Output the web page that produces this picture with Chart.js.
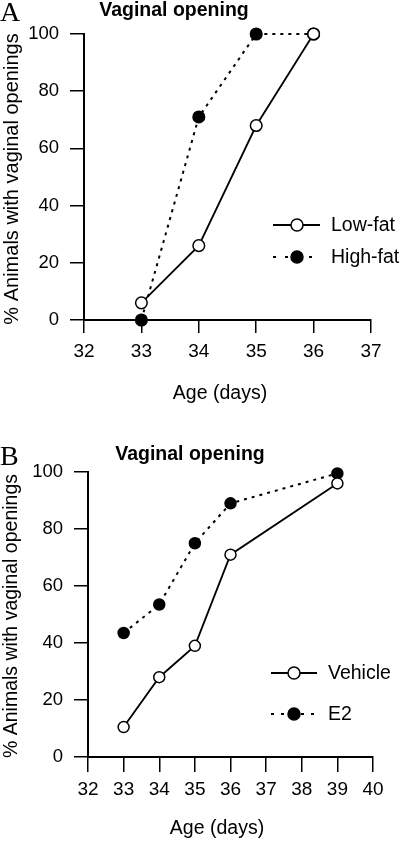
<!DOCTYPE html>
<html>
<head>
<meta charset="utf-8">
<script src="https://cdn.jsdelivr.net/npm/chart.js@4/dist/chart.umd.min.js"></script>
<style>
html,body{margin:0;padding:0;background:#fff;}
body{width:400px;height:841px;position:relative;overflow:hidden;}
canvas{position:absolute;left:0;}
#cA{top:0;}
#cB{top:420px;}
</style>
</head>
<body>
<canvas id="cA" width="400" height="420"></canvas>
<canvas id="cB" width="400" height="421"></canvas>
<script>
// ---- Data ----
const ageA = [33, 34, 35, 36];
const lowFat = [6, 26, 68, 100];
const highFat = [0, 71, 100, 100];

const ageB = [33, 34, 35, 36, 39];
const vehicle = [10.5, 28, 39, 71, 96];
const e2 = [43.5, 53.5, 75, 89, 99.5];

const xTicksA = [32, 33, 34, 35, 36, 37];
const xTicksB = [32, 33, 34, 35, 36, 37, 38, 39, 40];
const yTicks = [0, 20, 40, 60, 80, 100];

const seriesNamesA = ['Low-fat', 'High-fat'];
const seriesNamesB = ['Vehicle', 'E2'];
const panelTitle = 'Vaginal opening';
const yTitle = '% Animals with vaginal openings';
const xTitle = 'Age (days)';

const SANS = '"Liberation Sans", Arial, Helvetica, sans-serif';
const SERIF = '"Liberation Serif", "Times New Roman", serif';

function pts(xs, ys) { return xs.map((x, i) => ({x: x, y: ys[i]})); }

function makeDatasets(xs, a, b, names, r) {
  return [
    {label: names[0], data: pts(xs, a), borderColor: '#000', backgroundColor: '#fff',
     borderWidth: 1.8, pointRadius: r, pointBorderWidth: 1.5, pointBackgroundColor: '#fff',
     pointBorderColor: '#000', tension: 0, clip: false, order: 0},
    {label: names[1], data: pts(xs, b), borderColor: '#000', backgroundColor: '#000',
     borderWidth: 2, borderDash: [3, 5], pointRadius: r, pointBorderWidth: 1.5,
     pointBackgroundColor: '#000', pointBorderColor: '#000', tension: 0, clip: false, order: 1}
  ];
}

function annotPlugin(cfg) {
  return {
    id: 'annot',
    afterDraw(chart) {
      const ctx = chart.ctx;
      ctx.save();
      ctx.fillStyle = '#000';
      // panel letter
      ctx.font = '28px ' + SERIF;
      ctx.textAlign = 'left'; ctx.textBaseline = 'alphabetic';
      ctx.fillText(cfg.letter, cfg.letterX, cfg.letterY);
      // title
      ctx.font = 'bold 19.5px ' + SANS;
      ctx.textAlign = 'center';
      ctx.fillText(panelTitle, cfg.titleX, cfg.titleY);
      // x title
      ctx.font = '19.5px ' + SANS;
      ctx.fillText(xTitle, cfg.xtX, cfg.xtY);
      // y title
      ctx.save();
      ctx.translate(cfg.ytX, cfg.ytY);
      ctx.rotate(-Math.PI / 2);
      ctx.font = cfg.ytSize + 'px ' + SANS;
      ctx.textAlign = 'center'; ctx.textBaseline = 'middle';
      ctx.fillText(yTitle, 0, 0);
      ctx.restore();
      // legend
      const L = cfg.legend;
      ctx.font = '19.5px ' + SANS;
      ctx.textAlign = 'left'; ctx.textBaseline = 'middle';
      ctx.strokeStyle = '#000';
      // row 1 solid
      ctx.lineWidth = 1.8;
      ctx.setLineDash([]);
      ctx.beginPath(); ctx.moveTo(L.x0, L.y1); ctx.lineTo(L.x1, L.y1); ctx.stroke();
      ctx.beginPath(); ctx.arc(L.cx, L.y1, L.r, 0, Math.PI * 2);
      ctx.fillStyle = '#fff'; ctx.fill(); ctx.lineWidth = 1.5; ctx.stroke();
      ctx.fillStyle = '#000';
      ctx.fillText(L.names[0], L.tx, L.y1 + 1);
      // row 2 dotted
      ctx.lineWidth = 2;
      ctx.setLineDash(L.dash);
      ctx.beginPath(); ctx.moveTo(L.x0, L.y2); ctx.lineTo(L.x1, L.y2); ctx.stroke();
      ctx.setLineDash([]);
      ctx.beginPath(); ctx.arc(L.cx, L.y2, L.r, 0, Math.PI * 2);
      ctx.fill(); ctx.lineWidth = 1.5; ctx.stroke();
      ctx.fillText(L.names[1], L.tx, L.y2 + 1);
      ctx.restore();
    }
  };
}

function makeOptions(xTicks, yw, xh, pad, tlx, tly, padX) {
  const xmin = xTicks[0], xmax = xTicks[xTicks.length - 1];
  return {
    responsive: false, animation: false, devicePixelRatio: 1,
    layout: {padding: pad},
    plugins: {legend: {display: false}, tooltip: {enabled: false}, title: {display: false}},
    scales: {
      x: {
        type: 'linear', min: xmin, max: xmax,
        afterBuildTicks: (s) => { s.ticks = xTicks.map(v => ({value: v})); },
        afterFit: (s) => { s.height = xh; },
        ticks: {color: '#000', font: {family: SANS, size: 19}, padding: padX, autoSkip: false, maxRotation: 0},
        grid: {display: true, drawOnChartArea: false, drawTicks: true, tickLength: tlx, color: '#000', lineWidth: 1.5},
        border: {display: true, color: '#000', width: 2}
      },
      y: {
        type: 'linear', min: 0, max: 100,
        afterBuildTicks: (s) => { s.ticks = yTicks.map(v => ({value: v})); },
        afterFit: (s) => { s.width = yw; },
        ticks: {color: '#000', font: {family: SANS, size: 18.5}, padding: 11},
        grid: {display: true, drawOnChartArea: false, drawTicks: true, tickLength: tly, color: '#000', lineWidth: 1.5},
        border: {display: true, color: '#000', width: 2}
      }
    }
  };
}

new Chart(document.getElementById('cA'), {
  type: 'line',
  data: {datasets: makeDatasets(ageA, lowFat, highFat, seriesNamesA, 5.8)},
  options: makeOptions(xTicksA, 84, 100, {left: 0, top: 34, right: 29, bottom: 0}, 13, 14, 7),
  plugins: [annotPlugin({
    letter: 'A', letterX: 0, letterY: 21,
    titleX: 174, titleY: 16,
    xtX: 220, xtY: 399,
    ytX: 12, ytY: 179, ytSize: 20,
    legend: {x0: 273, x1: 320, cx: 297, r: 6, y1: 225, y2: 257, tx: 331, dash: [3, 9], names: seriesNamesA}
  })]
});

new Chart(document.getElementById('cB'), {
  type: 'line',
  data: {datasets: makeDatasets(ageB, vehicle, e2, seriesNamesB, 5.5)},
  options: makeOptions(xTicksB, 88, 84, {left: 0, top: 52, right: 27, bottom: 0}, 15, 14, 6),
  plugins: [annotPlugin({
    letter: 'B', letterX: 0, letterY: 465 - 420,
    titleX: 190, titleY: 460 - 420,
    xtX: 217, xtY: 834 - 420,
    ytX: 12, ytY: 616 - 420, ytSize: 19.5,
    legend: {x0: 271, x1: 317, cx: 294, r: 6, y1: 673 - 420, y2: 714 - 420, tx: 328, dash: [3, 7], names: seriesNamesB}
  })]
});
</script>
</body>
</html>
